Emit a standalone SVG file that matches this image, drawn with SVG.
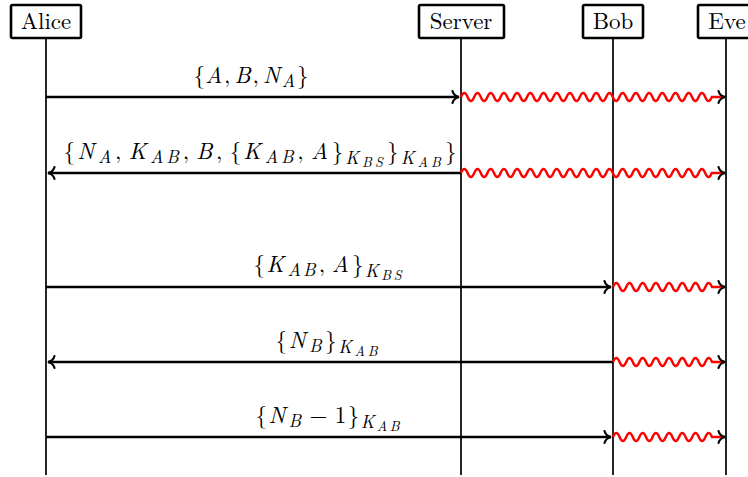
<svg xmlns="http://www.w3.org/2000/svg" width="748" height="477" viewBox="0 0 748 477">
<style>
  .box{fill:#fff;stroke:#000;stroke-width:2.6}
  .life{stroke:#000;stroke-width:1.7;fill:none}
  .name{font-family:"Latin Modern Roman","CMU Serif","Liberation Serif",Tinos,"Times New Roman","DejaVu Serif",serif;font-size:23px;fill:#000;text-anchor:middle}
  .msg{stroke:#000;stroke-width:2.4;fill:none}
  .snake{stroke:#ff0000;stroke-width:2.4;fill:none}
  .lbl{font-family:"Latin Modern Roman","CMU Serif","Liberation Serif",Tinos,"Times New Roman","DejaVu Serif",serif;font-size:23px;fill:#000;text-anchor:middle}
  .i{font-style:italic;letter-spacing:1.5px}
  .s{font-size:18px;letter-spacing:0.6px}
  .ss{font-size:14px;letter-spacing:1px}
</style>
<defs>
  <marker id="arr" markerUnits="userSpaceOnUse" viewBox="-10 -8 12 16" refX="0" refY="0" markerWidth="12" markerHeight="16" orient="auto" overflow="visible">
    <path d="M-6.5,-6 C-5.5,-2.5 -2.5,-0.6 0,0 C-2.5,0.6 -5.5,2.5 -6.5,6" fill="none" stroke="#000" stroke-width="2.2" stroke-linecap="round"/>
  </marker>
</defs>

<g id="lifelines">
  <line class="life" x1="46" y1="38" x2="46" y2="475"/>
  <line class="life" x1="461" y1="38" x2="461" y2="475"/>
  <line class="life" x1="613" y1="38" x2="613" y2="475"/>
  <line class="life" x1="726" y1="38" x2="726" y2="475"/>
</g>

<g id="alice">
  <rect class="box" x="11" y="5" width="70" height="33" rx="1.5"/>
  <text class="name" x="46" y="29">Alice</text>
</g>
<g id="server">
  <rect class="box" x="419" y="5" width="85" height="33" rx="1.5"/>
  <text class="name" x="461" y="29">Server</text>
</g>
<g id="bob">
  <rect class="box" x="583" y="5" width="60" height="33" rx="1.5"/>
  <text class="name" x="613" y="29">Bob</text>
</g>
<g id="eve">
  <rect class="box" x="698" y="5" width="58" height="33" rx="1.5"/>
  <text class="name" x="727" y="29">Eve</text>
</g>

<g id="connectors">
  <line class="msg" x1="46" y1="97" x2="459" y2="97" marker-end="url(#arr)"/>
  <line class="msg" x1="461" y1="173" x2="48" y2="173" marker-end="url(#arr)"/>
  <line class="msg" x1="46" y1="287" x2="611" y2="287" marker-end="url(#arr)"/>
  <line class="msg" x1="613" y1="362" x2="48" y2="362" marker-end="url(#arr)"/>
  <line class="msg" x1="46" y1="437" x2="611" y2="437" marker-end="url(#arr)"/>

  <path class="snake" marker-end="url(#arr)" d="M461,97 q3.3,-8 6.6,0 t6.6,0 t6.6,0 t6.6,0 t6.6,0 t6.6,0 t6.6,0 t6.6,0 t6.6,0 t6.6,0 t6.6,0 t6.6,0 t6.6,0 t6.6,0 t6.6,0 t6.6,0 t6.6,0 t6.6,0 t6.6,0 t6.6,0 t6.6,0 t6.6,0 t6.6,0 t6.6,0 t6.6,0 t6.6,0 t6.6,0 t6.6,0 t6.6,0 t6.6,0 t6.6,0 t6.6,0 t6.6,0 t6.6,0 t6.6,0 t6.6,0 t6.6,0 t6.6,0 L725,97"/>
  <path class="snake" marker-end="url(#arr)" d="M461,173 q3.3,-8 6.6,0 t6.6,0 t6.6,0 t6.6,0 t6.6,0 t6.6,0 t6.6,0 t6.6,0 t6.6,0 t6.6,0 t6.6,0 t6.6,0 t6.6,0 t6.6,0 t6.6,0 t6.6,0 t6.6,0 t6.6,0 t6.6,0 t6.6,0 t6.6,0 t6.6,0 t6.6,0 t6.6,0 t6.6,0 t6.6,0 t6.6,0 t6.6,0 t6.6,0 t6.6,0 t6.6,0 t6.6,0 t6.6,0 t6.6,0 t6.6,0 t6.6,0 t6.6,0 t6.6,0 L725,173"/>
  <path class="snake" marker-end="url(#arr)" d="M613,287 q3.3,-8 6.6,0 t6.6,0 t6.6,0 t6.6,0 t6.6,0 t6.6,0 t6.6,0 t6.6,0 t6.6,0 t6.6,0 t6.6,0 t6.6,0 t6.6,0 t6.6,0 t6.6,0 L725,287"/>
  <path class="snake" marker-end="url(#arr)" d="M613,362 q3.3,-8 6.6,0 t6.6,0 t6.6,0 t6.6,0 t6.6,0 t6.6,0 t6.6,0 t6.6,0 t6.6,0 t6.6,0 t6.6,0 t6.6,0 t6.6,0 t6.6,0 t6.6,0 L725,362"/>
  <path class="snake" marker-end="url(#arr)" d="M613,437 q3.3,-8 6.6,0 t6.6,0 t6.6,0 t6.6,0 t6.6,0 t6.6,0 t6.6,0 t6.6,0 t6.6,0 t6.6,0 t6.6,0 t6.6,0 t6.6,0 t6.6,0 t6.6,0 L725,437"/>
</g>

<g id="labels">
  <text class="lbl" x="251" y="83" textLength="115" lengthAdjust="spacing">{<tspan class="i">A</tspan>,<tspan class="i" dx="4">B</tspan>,<tspan class="i" dx="4">N</tspan><tspan class="i s" dy="4">A</tspan><tspan dy="-4" dx="1">}</tspan></text>
  <text class="lbl" x="260" y="159" textLength="393" lengthAdjust="spacing">{<tspan class="i">N</tspan><tspan class="i s" dy="4">A</tspan><tspan dy="-4" dx="1">,</tspan><tspan class="i" dx="5">K</tspan><tspan class="i s" dy="4">AB</tspan><tspan dy="-4" dx="1">,</tspan><tspan class="i" dx="5">B</tspan>,<tspan dx="5">{</tspan><tspan class="i">K</tspan><tspan class="i s" dy="4">AB</tspan><tspan dy="-4" dx="1">,</tspan><tspan class="i" dx="5">A</tspan>}<tspan class="i s" dy="5">K</tspan><tspan class="i ss" dy="3">BS</tspan><tspan dy="-8" dx="1">}</tspan><tspan class="i s" dy="5">K</tspan><tspan class="i ss" dy="3">AB</tspan><tspan dy="-8" dx="1">}</tspan></text>
  <text class="lbl" x="328" y="272" textLength="149" lengthAdjust="spacing">{<tspan class="i">K</tspan><tspan class="i s" dy="4">AB</tspan><tspan dy="-4" dx="1">,</tspan><tspan class="i" dx="5">A</tspan>}<tspan class="i s" dy="5">K</tspan><tspan class="i ss" dy="3">BS</tspan></text>
  <text class="lbl" x="327" y="348" textLength="103" lengthAdjust="spacing">{<tspan class="i">N</tspan><tspan class="i s" dy="4">B</tspan><tspan dy="-4" dx="1">}</tspan><tspan class="i s" dy="5">K</tspan><tspan class="i ss" dy="3">AB</tspan></text>
  <text class="lbl" x="328" y="423" textLength="145" lengthAdjust="spacing">{<tspan class="i">N</tspan><tspan class="i s" dy="4">B</tspan><tspan dy="-4" dx="6">−</tspan><tspan dx="6">1}</tspan><tspan class="i s" dy="5">K</tspan><tspan class="i ss" dy="3">AB</tspan></text>
</g>
</svg>
